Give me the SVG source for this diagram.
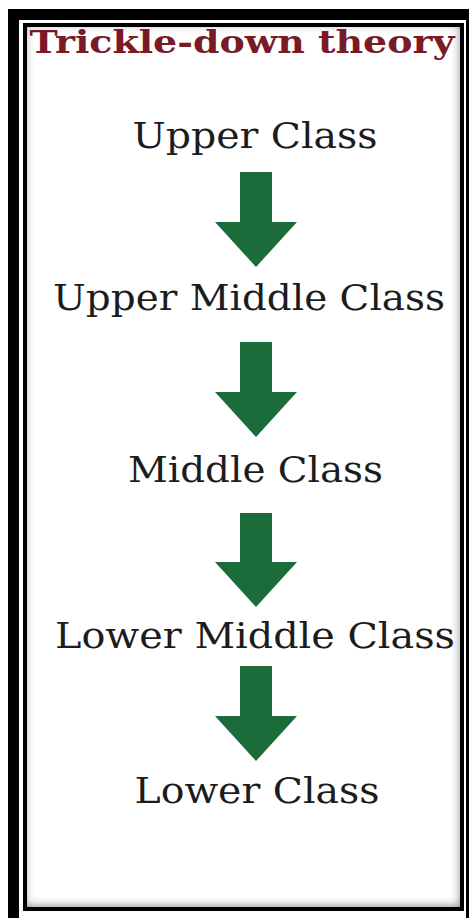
<svg xmlns="http://www.w3.org/2000/svg" width="469" height="918" viewBox="0 0 469 918">
<defs>
<style>
.lbl{font-family:"DejaVu Serif","Liberation Serif",serif;font-size:35px;fill:#1c1c1c;text-anchor:middle}
.title{font-family:"DejaVu Serif","Liberation Serif",serif;font-size:31px;font-weight:bold;fill:#7a1a26;text-anchor:middle}
.arrow{fill:#1b6b3b}
</style>
<filter id="inset" x="-0.1" y="-0.1" width="1.2" height="1.2">
<feComponentTransfer in="SourceAlpha" result="inv"><feFuncA type="table" tableValues="1 0"/></feComponentTransfer>
<feOffset in="inv" dx="-1" dy="-2" result="off"/>
<feGaussianBlur in="off" stdDeviation="4" result="blur"/>
<feFlood flood-color="#000" flood-opacity="0.75"/>
<feComposite in2="blur" operator="in" result="shadow"/>
<feComposite in="shadow" in2="SourceAlpha" operator="in" result="clipped"/>
<feMerge><feMergeNode in="SourceGraphic"/><feMergeNode in="clipped"/></feMerge>
</filter>
</defs>
<rect x="0" y="0" width="469" height="918" fill="#fff"/>
<g id="frame">
<rect x="8" y="9" width="461" height="909" fill="#000"/>
<rect x="19" y="20" width="447" height="898" fill="#fff"/>
<rect x="23" y="23" width="441" height="888" fill="#000"/>
<rect x="27" y="27" width="433" height="880" fill="#fff" filter="url(#inset)"/>
</g>
<g id="title"><text class="title" x="242" y="53" textLength="425" lengthAdjust="spacingAndGlyphs">Trickle-down theory</text></g>
<g id="upper"><text class="lbl" x="255" y="148" textLength="245" lengthAdjust="spacingAndGlyphs">Upper Class</text></g>
<g id="upper-middle"><text class="lbl" x="249" y="310" textLength="392" lengthAdjust="spacingAndGlyphs">Upper Middle Class</text></g>
<g id="middle"><text class="lbl" x="255.5" y="482" textLength="255" lengthAdjust="spacingAndGlyphs">Middle Class</text></g>
<g id="lower-middle"><text class="lbl" x="255" y="648" textLength="400" lengthAdjust="spacingAndGlyphs">Lower Middle Class</text></g>
<g id="lower"><text class="lbl" x="257" y="803" textLength="245" lengthAdjust="spacingAndGlyphs">Lower Class</text></g>
<g id="connectors">
<path class="arrow" d="M240,172 H272 V222 H297 L256,267 L215,222 H240 Z"/>
<path class="arrow" d="M240,342 H272 V392 H297 L256,437 L215,392 H240 Z"/>
<path class="arrow" d="M240,513 H272 V562 H297 L256,607 L215,562 H240 Z"/>
<path class="arrow" d="M240,666 H272 V716 H297 L256,761 L215,716 H240 Z"/>
</g>
</svg>
